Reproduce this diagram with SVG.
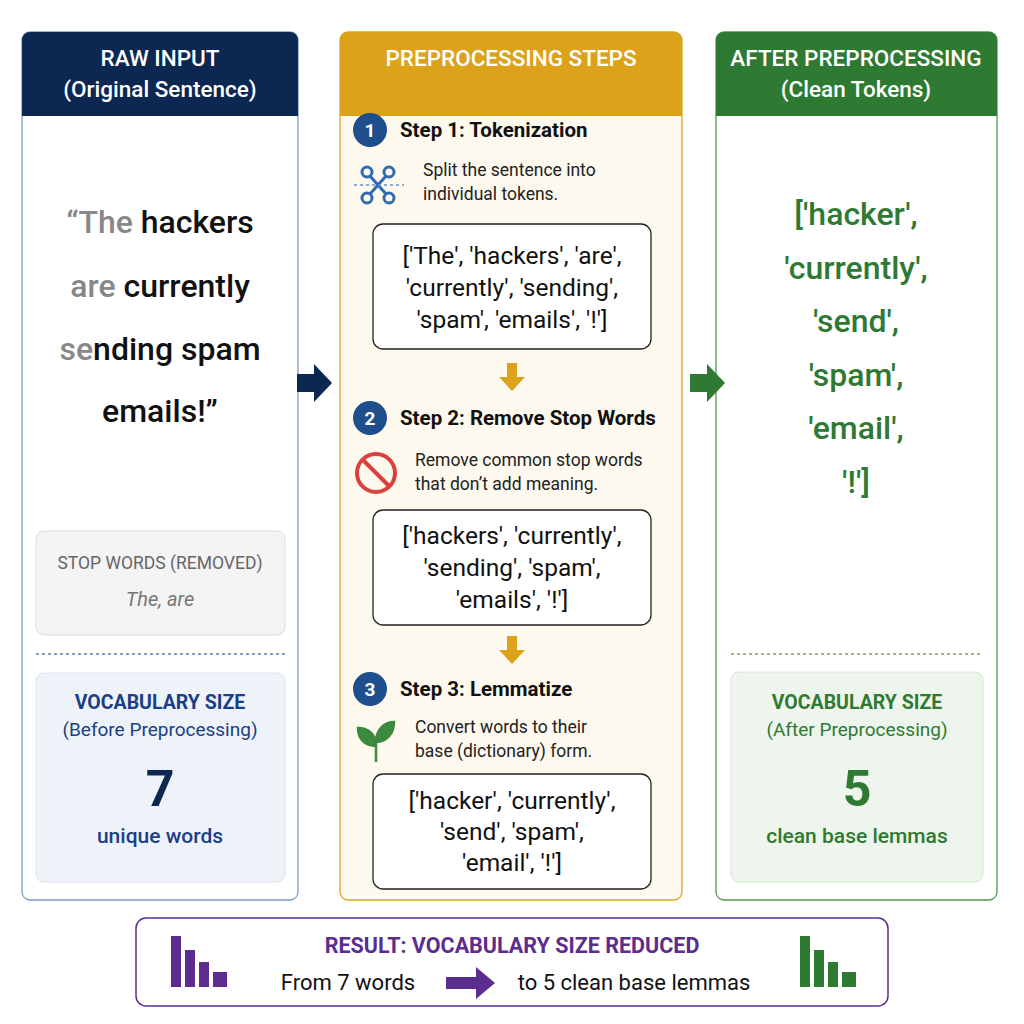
<svg xmlns="http://www.w3.org/2000/svg" width="1024" height="1024" viewBox="0 0 1024 1024">
<style>
text{font-family:Roboto,"Liberation Sans",sans-serif}
.hd{fill:#fff;font-size:22.5px;font-weight:500;text-anchor:middle}
.big{font-size:32px;font-weight:500;text-anchor:middle}
.st{font-size:20.5px;font-weight:700;fill:#111}
.ds{font-size:17.5px;fill:#222}
.tk{font-size:24.5px;fill:#111;text-anchor:middle}
.tb{fill:#fff;stroke:#222;stroke-width:1.3}
.num{fill:#fff;font-size:19px;font-weight:700;text-anchor:middle}
.c{text-anchor:middle}
</style>
<rect width="1024" height="1024" fill="#fff"/>
<g id="raw">
<rect x="22" y="32" width="276" height="868" rx="8" fill="#fff" stroke="#7f9cc8" stroke-width="1.3"/>
<path d="M22 116V40a8 8 0 0 1 8-8h260a8 8 0 0 1 8 8v76z" fill="#0c2752"/>
<text class="hd" x="160" y="66">RAW INPUT</text>
<text class="hd" x="160" y="97">(Original Sentence)</text>
<text class="big" x="160" y="233" fill="#111"><tspan fill="#888">“The</tspan> hackers</text>
<text class="big" x="160" y="297" fill="#111"><tspan fill="#888">are</tspan> currently</text>
<text class="big" x="160" y="360" fill="#111"><tspan fill="#888">se</tspan>nding spam</text>
<text class="big" x="160" y="422" fill="#111">emails!”</text>
<rect x="36" y="531" width="249" height="104" rx="8" fill="#f4f4f4" stroke="#ddd"/>
<text class="c" x="160" y="569" font-size="17.5" fill="#666">STOP WORDS (REMOVED)</text>
<text class="c" x="160" y="606" font-size="20" font-style="italic" fill="#777">The, are</text>
<line x1="36" y1="654" x2="285" y2="654" stroke="#5b7fc0" stroke-width="1.5" stroke-dasharray="3 3"/>
<rect x="36" y="673" width="249" height="209" rx="8" fill="#eef3fa" stroke="#dde4ee"/>
<text class="c" x="160" y="709" font-size="19.5" font-weight="700" fill="#1b3f86">VOCABULARY SIZE</text>
<text class="c" x="160" y="736" font-size="19" fill="#1b3f86">(Before Preprocessing)</text>
<text class="c" x="160" y="806" font-size="50" font-weight="700" fill="#0c2752">7</text>
<text class="c" x="160" y="843" font-size="21" font-weight="500" fill="#1b3f86">unique words</text>
</g>
<g id="steps">
<rect x="340" y="32" width="342" height="868" rx="8" fill="#fdf9ee" stroke="#d9a626" stroke-width="1.3"/>
<path d="M340 116V40a8 8 0 0 1 8-8h326a8 8 0 0 1 8 8v76z" fill="#dba21a"/>
<text class="hd" x="511" y="66">PREPROCESSING STEPS</text>
<circle cx="370" cy="130" r="17" fill="#1f4e8c"/><text class="num" x="370" y="137">1</text>
<text class="st" x="400" y="137">Step 1: Tokenization</text>
<g fill="none" stroke="#2f6ab3" stroke-width="3"><circle cx="367" cy="172" r="5"/><circle cx="389" cy="172" r="5"/><circle cx="367" cy="198" r="5"/><circle cx="389" cy="198" r="5"/><path d="M370 176L386 194M386 176L370 194"/></g>
<line x1="354" y1="185" x2="404" y2="185" stroke="#6d8fc8" stroke-width="1.5" stroke-dasharray="3 3"/>
<text class="ds" x="423" y="176">Split the sentence into</text>
<text class="ds" x="423" y="200">individual tokens.</text>
<rect class="tb" x="373" y="224" width="278" height="125" rx="10"/>
<text class="tk" x="512" y="264">['The', 'hackers', 'are',</text>
<text class="tk" x="512" y="296">'currently', 'sending',</text>
<text class="tk" x="512" y="328">'spam', 'emails', '!']</text>
<circle cx="370" cy="418" r="17" fill="#1f4e8c"/><text class="num" x="370" y="425">2</text>
<text class="st" x="400" y="425">Step 2: Remove Stop Words</text>
<circle cx="376" cy="473" r="19" fill="none" stroke="#d9413e" stroke-width="4"/>
<line x1="363" y1="460" x2="389" y2="486" stroke="#d9413e" stroke-width="4"/>
<text class="ds" x="415" y="466">Remove common stop words</text>
<text class="ds" x="415" y="490">that don’t add meaning.</text>
<rect class="tb" x="373" y="510" width="278" height="115" rx="10"/>
<text class="tk" x="512" y="544">['hackers', 'currently',</text>
<text class="tk" x="512" y="576">'sending', 'spam',</text>
<text class="tk" x="512" y="608">'emails', '!']</text>
<circle cx="370" cy="689" r="17" fill="#1f4e8c"/><text class="num" x="370" y="696">3</text>
<text class="st" x="400" y="696">Step 3: Lemmatize</text>
<path d="M376 762V738M376 746c-12 0-18-8-18-18 10 0 18 6 18 18zM376 742c0-12 8-20 18-20 0 12-8 20-18 20z" fill="#3b8a3e" stroke="#3b8a3e" stroke-width="2.5"/>
<text class="ds" x="415" y="733">Convert words to their</text>
<text class="ds" x="415" y="757">base (dictionary) form.</text>
<rect class="tb" x="373" y="774" width="278" height="115" rx="10"/>
<text class="tk" x="512" y="809">['hacker', 'currently',</text>
<text class="tk" x="512" y="840">'send', 'spam',</text>
<text class="tk" x="512" y="871">'email', '!']</text>
</g>
<g id="clean">
<rect x="716" y="32" width="281" height="868" rx="8" fill="#fff" stroke="#4f9a52" stroke-width="1.3"/>
<path d="M716 116V40a8 8 0 0 1 8-8h265a8 8 0 0 1 8 8v76z" fill="#2e7a33"/>
<text class="hd" x="856" y="66">AFTER PREPROCESSING</text>
<text class="hd" x="856" y="97">(Clean Tokens)</text>
<g class="big" fill="#2e7a33">
<text x="856" y="225">['hacker',</text>
<text x="856" y="279">'currently',</text>
<text x="856" y="332">'send',</text>
<text x="856" y="386">'spam',</text>
<text x="856" y="439">'email',</text>
<text x="856" y="493">'!']</text>
</g>
<line x1="731" y1="654" x2="983" y2="654" stroke="#9a9a3a" stroke-width="1.5" stroke-dasharray="3 3"/>
<rect x="731" y="672" width="252" height="210" rx="8" fill="#eef5ec" stroke="#d6e6d4"/>
<text class="c" x="857" y="709" font-size="19.5" font-weight="700" fill="#2e7a33">VOCABULARY SIZE</text>
<text class="c" x="857" y="736" font-size="19" fill="#2e7a33">(After Preprocessing)</text>
<text class="c" x="857" y="806" font-size="50" font-weight="700" fill="#2e7a33">5</text>
<text class="c" x="857" y="843" font-size="21" font-weight="500" fill="#2e7a33">clean base lemmas</text>
</g>
<g id="result">
<rect x="136" y="918" width="752" height="88" rx="10" fill="#fff" stroke="#5b2d8e" stroke-width="1.5"/>
<g fill="#5b2d8e"><rect x="171" y="936" width="10" height="51"/><rect x="185" y="950" width="10" height="37"/><rect x="199" y="962" width="10" height="25"/><rect x="213" y="972" width="14" height="15"/></g>
<g fill="#2e7a33"><rect x="800" y="936" width="10" height="51"/><rect x="814" y="950" width="10" height="37"/><rect x="828" y="962" width="10" height="25"/><rect x="842" y="972" width="14" height="15"/></g>
<text class="c" x="512" y="953" font-size="21.5" font-weight="700" fill="#5b2d8e">RESULT: VOCABULARY SIZE REDUCED</text>
<text class="c" x="348" y="990" font-size="22" fill="#111">From 7 words</text>
<text class="c" x="634" y="990" font-size="22" fill="#111">to 5 clean base lemmas</text>
</g>
<g id="connectors">
<path d="M297 374h17v-10l18 19-18 19v-10h-17z" fill="#0c2752"/>
<path d="M690 374h17v-10l18 19-18 19v-10h-17z" fill="#2e7a33"/>
<path d="M507 363h10v14h8l-13 14-13-14h8z" fill="#dba21a"/>
<path d="M507 636h10v14h8l-13 14-13-14h8z" fill="#dba21a"/>
<path d="M446 977h30v-10l19 16-19 16v-10h-30z" fill="#5b2d8e"/>
</g>
</svg>
